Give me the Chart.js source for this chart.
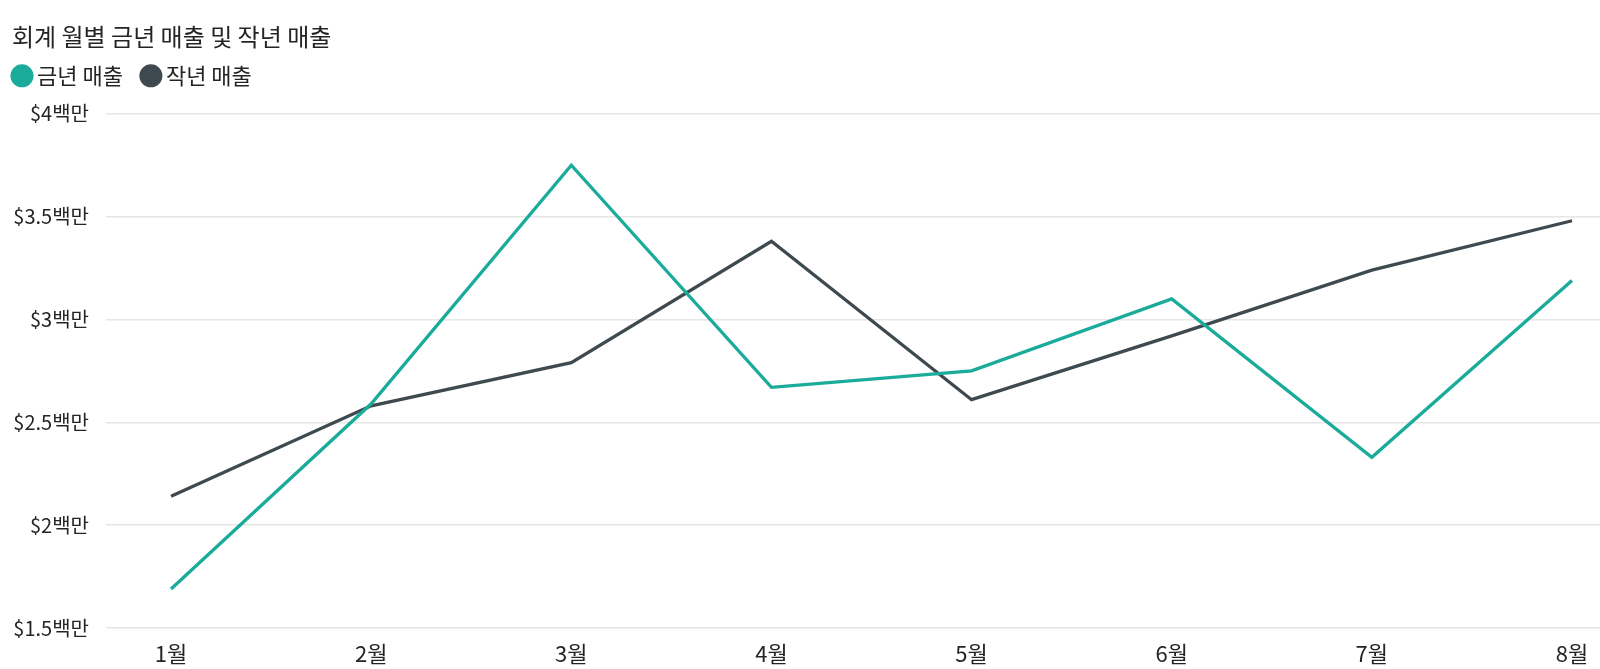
<!DOCTYPE html>
<html>
<head>
<meta charset="utf-8">
<script src="https://cdn.jsdelivr.net/npm/chart.js@4.4.1/dist/chart.umd.min.js"></script>
<style>
  html, body { margin: 0; padding: 0; background: #fff; }
  #salesChart { display: block; }
</style>
</head>
<body>
<canvas id="salesChart" width="1600" height="669"></canvas>
<script>
// months of fiscal year
var months = ['1월', '2월', '3월', '4월', '5월', '6월', '7월', '8월']
// sales in millions of dollars
var thisYear = [1.69, 2.59, 3.75, 2.67, 2.75, 3.10, 2.33, 3.19]
var lastYear = [2.14, 2.58, 2.79, 3.38, 2.61, 2.92, 3.24, 3.48]
var yTicks = [1.5, 2, 2.5, 3, 3.5, 4]

var FONT = "'Segoe UI', 'Noto Sans CJK KR', sans-serif"
var TEXT = '#252423'

function toPoints( vals ) {
	return vals.map(function(v, i) { return { x: i, y: v } })
}

// legend padding also pushes the first item right, pull it back,
// and leave some room under the legend before the plot starts
var legendShift = {
	id: 'legendShift',
	beforeLayout: function(chart) {
		var lg = chart.legend
		if( lg && !lg._patched ) {
			var fit = lg.fit
			lg.fit = function() {
				fit.call(this)
				this.height += 17
			}
			lg._patched = true
		}
	},
	afterLayout: function(chart) {
		chart.legend.left -= 18
	}
}

function SalesChart() {
	var cfg = {
		type: 'line',
		data: {
			datasets: [
				{
					label: '금년 매출',
					data: toPoints(thisYear),
					borderColor: '#1aab9b',
					backgroundColor: '#1aab9b',
					borderWidth: 3.3,
					pointRadius: 0,
					tension: 0
				}, {
					label: '작년 매출',
					data: toPoints(lastYear),
					borderColor: '#3e4a4f',
					backgroundColor: '#3e4a4f',
					borderWidth: 3.3,
					pointRadius: 0,
					tension: 0
				}
			]
		},
		plugins: [legendShift],
		options: {
			responsive: false,
			animation: false,
			devicePixelRatio: 1,
			layout: { padding: { left: 12, right: 0, top: 22, bottom: 0 } },
			plugins: {
				tooltip: { enabled: false },
				title: {
					display: true,
					text: '회계 월별 금년 매출 및 작년 매출',
					align: 'start',
					color: TEXT,
					font: { family: FONT, size: 24, weight: 'normal' },
					padding: { top: 0, bottom: -10 }
				},
				legend: {
					display: true,
					align: 'start',
					labels: {
						usePointStyle: true,
						pointStyle: 'circle',
						boxWidth: 8,
						boxHeight: 14,
						padding: 24,
						color: TEXT,
						font: { family: FONT, size: 22 }
					}
				}
			},
			scales: {
				x: {
					type: 'linear',
					min: -0.325,
					max: 7.14,
					grid: { display: false },
					border: { display: false },
					afterBuildTicks: function(s) {
						s.ticks = months.map(function(m, i) { return { value: i } })
					},
					afterFit: function(s) { s.height = 41 },
					ticks: {
						padding: 4,
						color: TEXT,
						font: { family: FONT, size: 22 },
						maxRotation: 0,
						callback: function(v) { return months[v] }
					}
				},
				y: {
					min: 1.5,
					max: 4,
					grid: { color: '#e6e6e6', lineWidth: 1.5, drawTicks: false },
					border: { display: false },
					afterBuildTicks: function(s) {
						s.ticks = yTicks.map(function(v) { return { value: v } })
					},
					afterFit: function(s) { s.width = 94 },
					ticks: {
						padding: 17,
						color: TEXT,
						font: { family: FONT, size: 20 },
						callback: function(v) { return '$' + v + '백만' }
					}
				}
			}
		}
	}
	var ctx = document.getElementById('salesChart')
	return new Chart(ctx, cfg)
}

SalesChart()
</script>
</body>
</html>
